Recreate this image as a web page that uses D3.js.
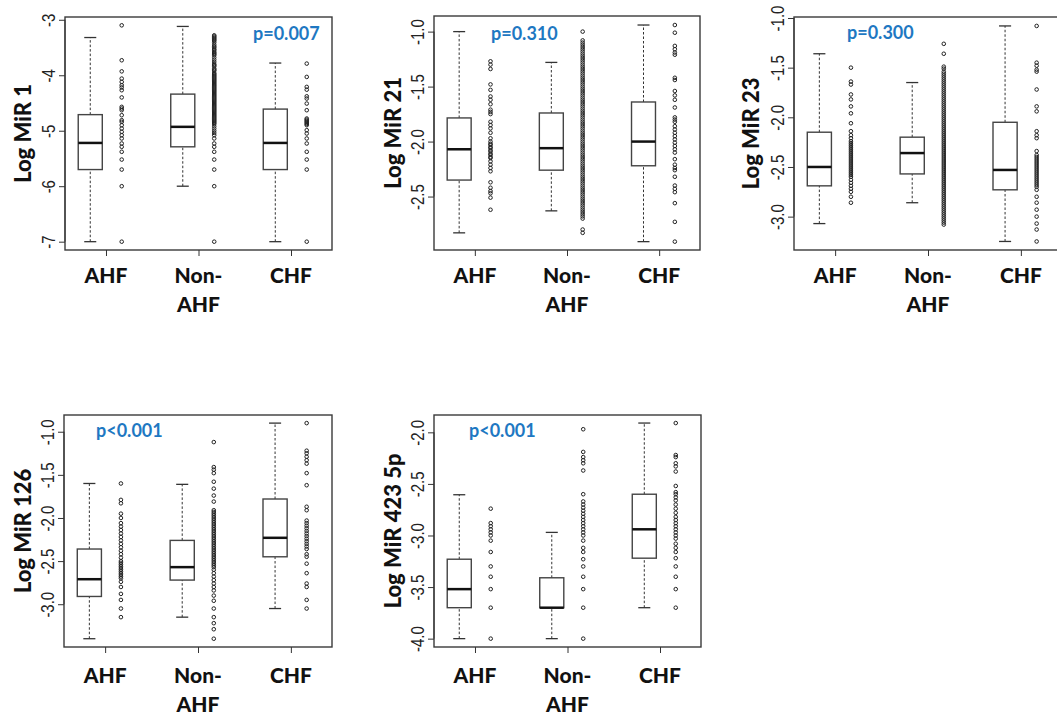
<!DOCTYPE html>
<html><head><meta charset="utf-8">
<script src="https://cdn.jsdelivr.net/npm/d3@7"></script>
<style>body{margin:0;background:#fff}svg{display:block}</style>
</head><body><svg id="c" width="1057" height="719"></svg>
<script>
// ---------- data ----------
const categories = ["AHF", "Non-AHF", "CHF"];
const categoryLines = [["AHF"], ["Non-", "AHF"], ["CHF"]];
const yLabels = ["Log MiR 1", "Log MiR 21", "Log MiR 23", "Log MiR 126", "Log MiR 423 5p"];
const pLabels = ["p=0.007", "p=0.310", "p=0.300", "p<0.001", "p<0.001"];

const ticks1 = [-7, -6, -5, -4, -3];
const tickLabels1 = ["-7", "-6", "-5", "-4", "-3"];
const ticks21 = [-2.5, -2.0, -1.5, -1.0];
const tickLabels21 = ["-2.5", "-2.0", "-1.5", "-1.0"];
const ticks23 = [-3.0, -2.5, -2.0, -1.5, -1.0];
const tickLabels23 = ["-3.0", "-2.5", "-2.0", "-1.5", "-1.0"];
const ticks126 = [-3.0, -2.5, -2.0, -1.5, -1.0];
const tickLabels126 = ["-3.0", "-2.5", "-2.0", "-1.5", "-1.0"];
const ticks423 = [-4.0, -3.5, -3.0, -2.5, -2.0];
const tickLabels423 = ["-4.0", "-3.5", "-3.0", "-2.5", "-2.0"];

// box stats per group: [lower whisker, Q1, median, Q3, upper whisker]
const box1 = [[-7.0, -5.70, -5.22, -4.71, -3.32], [-6.0, -5.29, -4.93, -4.34, -3.12], [-7.0, -5.70, -5.22, -4.61, -3.78]];
const box21 = [[-2.83, -2.35, -2.07, -1.785, -1.0], [-2.63, -2.26, -2.06, -1.74, -1.28], [-2.91, -2.22, -2.0, -1.64, -0.94]];
const box23 = [[-3.07, -2.69, -2.50, -2.15, -1.36], [-2.86, -2.57, -2.36, -2.20, -1.65], [-3.25, -2.73, -2.53, -2.05, -1.08]];
const box126 = [[-3.40, -2.91, -2.71, -2.36, -1.60], [-3.15, -2.72, -2.57, -2.26, -1.61], [-3.05, -2.45, -2.23, -1.78, -0.90]];
const box423 = [[-4.0, -3.70, -3.52, -3.23, -2.605], [-4.0, -3.70, -3.70, -3.41, -2.97], [-3.70, -3.22, -2.94, -2.60, -1.91]];

// individual points (strip charts)
const pts1AHF = [-3.10, -3.73, -3.93, -4.06, -4.12, -4.18, -4.22, -4.27, -4.40, -4.57, -4.60, -4.63, -4.72, -4.81, -4.84, -4.90, -4.96, -5.02, -5.08, -5.14, -5.23, -5.29, -5.38, -5.52, -5.70, -6.0, -7.0];
const pts1Non = [-3.28, -3.30, -3.32, -3.34, -3.36, -3.38, -3.41, -3.45, -3.48, -3.50, -3.53, -3.55, -3.58, -3.60, -3.62, -3.64, -3.68, -3.72, -3.76, -3.80, -3.82, -3.84, -3.88, -3.90, -3.92, -3.96, -3.98, -4.00, -4.02, -4.04, -4.06, -4.08, -4.10, -4.12, -4.14, -4.16, -4.18, -4.20, -4.22, -4.24, -4.26, -4.28, -4.30, -4.32, -4.34, -4.36, -4.38, -4.40, -4.42, -4.44, -4.46, -4.48, -4.50, -4.52, -4.54, -4.56, -4.58, -4.60, -4.62, -4.64, -4.66, -4.68, -4.70, -4.72, -4.74, -4.76, -4.78, -4.80, -4.82, -4.84, -4.86, -4.88, -4.92, -4.96, -5.00, -5.04, -5.08, -5.14, -5.23, -5.29, -5.38, -5.52, -5.70, -6.0, -7.0];
const pts1CHF = [-3.79, -4.03, -4.21, -4.26, -4.38, -4.42, -4.51, -4.63, -4.78, -4.80, -4.82, -4.84, -4.86, -4.88, -4.90, -4.99, -5.05, -5.14, -5.23, -5.38, -5.52, -5.70, -7.0];

const pts21AHF = [-1.27, -1.30, -1.34, -1.48, -1.53, -1.59, -1.62, -1.66, -1.71, -1.73, -1.75, -1.82, -1.85, -1.88, -1.92, -1.97, -2.00, -2.02, -2.03, -2.05, -2.06, -2.08, -2.09, -2.11, -2.12, -2.14, -2.15, -2.18, -2.21, -2.24, -2.27, -2.37, -2.42, -2.45, -2.47, -2.51, -2.62];
const pts21Non = [-1.00, -1.08, -1.10, -1.12, -1.14, -1.16, -1.18, -1.20, -1.22, -1.24, -1.26, -1.28, -1.30, -1.32, -1.34, -1.36, -1.38, -1.40, -1.42, -1.44, -1.46, -1.48, -1.50, -1.52, -1.54, -1.56, -1.58, -1.60, -1.62, -1.64, -1.66, -1.68, -1.70, -1.72, -1.74, -1.76, -1.78, -1.80, -1.82, -1.84, -1.86, -1.88, -1.90, -1.92, -1.94, -1.96, -1.98, -2.00, -2.02, -2.04, -2.06, -2.08, -2.10, -2.12, -2.14, -2.16, -2.18, -2.20, -2.22, -2.24, -2.26, -2.28, -2.30, -2.32, -2.34, -2.36, -2.38, -2.40, -2.42, -2.44, -2.46, -2.48, -2.50, -2.52, -2.54, -2.56, -2.58, -2.60, -2.62, -2.64, -2.66, -2.68, -2.70, -2.80, -2.83];
const pts21CHF = [-0.94, -1.01, -1.13, -1.16, -1.19, -1.21, -1.42, -1.44, -1.54, -1.58, -1.62, -1.69, -1.78, -1.80, -1.82, -1.86, -1.89, -1.92, -1.95, -1.98, -2.01, -2.04, -2.07, -2.10, -2.16, -2.21, -2.24, -2.26, -2.32, -2.40, -2.43, -2.46, -2.56, -2.73, -2.91];

const pts23AHF = [-1.50, -1.64, -1.67, -1.77, -1.82, -1.89, -1.96, -2.06, -2.14, -2.18, -2.21, -2.24, -2.26, -2.28, -2.30, -2.32, -2.34, -2.36, -2.38, -2.40, -2.42, -2.44, -2.46, -2.48, -2.50, -2.52, -2.54, -2.56, -2.58, -2.60, -2.63, -2.66, -2.69, -2.72, -2.75, -2.80, -2.86];
const pts23Non = [-1.26, -1.36, -1.49, -1.51, -1.54, -1.56, -1.58, -1.60, -1.62, -1.64, -1.66, -1.68, -1.70, -1.72, -1.74, -1.76, -1.78, -1.80, -1.82, -1.84, -1.86, -1.88, -1.90, -1.92, -1.94, -1.96, -1.98, -2.00, -2.02, -2.04, -2.06, -2.08, -2.10, -2.12, -2.14, -2.16, -2.18, -2.20, -2.22, -2.24, -2.26, -2.28, -2.30, -2.32, -2.34, -2.36, -2.38, -2.40, -2.42, -2.44, -2.46, -2.48, -2.50, -2.52, -2.54, -2.56, -2.58, -2.60, -2.62, -2.64, -2.66, -2.68, -2.70, -2.72, -2.74, -2.76, -2.78, -2.80, -2.82, -2.84, -2.86, -2.88, -2.90, -2.92, -2.94, -2.96, -2.98, -3.00, -3.02, -3.04, -3.06, -3.08];
const pts23CHF = [-1.08, -1.45, -1.48, -1.52, -1.54, -1.72, -1.89, -1.94, -2.14, -2.18, -2.21, -2.34, -2.38, -2.40, -2.42, -2.44, -2.46, -2.48, -2.50, -2.52, -2.54, -2.56, -2.58, -2.60, -2.62, -2.64, -2.66, -2.68, -2.70, -2.73, -2.80, -2.86, -2.93, -3.00, -3.07, -3.13, -3.25];

const pts126AHF = [-1.60, -1.79, -1.83, -1.95, -2.00, -2.06, -2.10, -2.14, -2.18, -2.22, -2.26, -2.30, -2.34, -2.38, -2.42, -2.46, -2.50, -2.52, -2.54, -2.56, -2.58, -2.60, -2.62, -2.64, -2.66, -2.68, -2.70, -2.74, -2.80, -2.88, -2.95, -3.05, -3.15];
const pts126Non = [-1.12, -1.41, -1.44, -1.48, -1.58, -1.66, -1.74, -1.81, -1.91, -1.93, -1.95, -1.97, -1.99, -2.01, -2.03, -2.05, -2.07, -2.09, -2.11, -2.13, -2.15, -2.17, -2.19, -2.21, -2.23, -2.25, -2.27, -2.29, -2.31, -2.33, -2.35, -2.37, -2.39, -2.41, -2.43, -2.45, -2.47, -2.49, -2.51, -2.53, -2.55, -2.57, -2.60, -2.64, -2.68, -2.72, -2.76, -2.80, -2.84, -2.90, -2.96, -3.05, -3.15, -3.22, -3.29, -3.40];
const pts126CHF = [-0.90, -1.22, -1.25, -1.29, -1.33, -1.37, -1.48, -1.62, -1.87, -1.91, -2.03, -2.06, -2.09, -2.12, -2.15, -2.18, -2.21, -2.24, -2.27, -2.30, -2.33, -2.36, -2.42, -2.45, -2.53, -2.64, -2.76, -2.80, -2.95, -3.05];

const pts423AHF = [-2.74, -2.88, -2.91, -2.94, -2.97, -3.00, -3.05, -3.16, -3.30, -3.40, -3.52, -3.70, -4.0];
const pts423Non = [-1.97, -2.19, -2.24, -2.27, -2.30, -2.37, -2.60, -2.67, -2.70, -2.73, -2.76, -2.79, -2.82, -2.85, -2.88, -2.91, -2.94, -2.97, -3.00, -3.05, -3.12, -3.16, -3.23, -3.30, -3.40, -3.52, -3.70, -4.0];
const pts423CHF = [-1.91, -2.22, -2.24, -2.30, -2.33, -2.38, -2.52, -2.58, -2.60, -2.63, -2.66, -2.70, -2.74, -2.78, -2.82, -2.85, -2.88, -2.91, -2.94, -2.97, -3.00, -3.03, -3.08, -3.12, -3.16, -3.22, -3.30, -3.40, -3.52, -3.70];

const panelTicks = [ticks1, ticks21, ticks23, ticks126, ticks423];
const panelTickLabels = [tickLabels1, tickLabels21, tickLabels23, tickLabels126, tickLabels423];
const panelBoxes = [box1, box21, box23, box126, box423];
const panelPoints = [
  [pts1AHF, pts1Non, pts1CHF],
  [pts21AHF, pts21Non, pts21CHF],
  [pts23AHF, pts23Non, pts23CHF],
  [pts126AHF, pts126Non, pts126CHF],
  [pts423AHF, pts423Non, pts423CHF]
];

// ---------- layout ----------
const layout = [
  {left: 65, top: 17, right: 332, bottom: 250, y: [-7.15, -2.95], labelX: 31, pX: 253, pY: 40, catY: 283},
  {left: 434, top: 16, right: 700, bottom: 250, y: [-2.986, -0.858], labelX: 401, pX: 491, pY: 40, catY: 283},
  {left: 794, top: 17, right: 1062, bottom: 250, y: [-3.336, -0.99], labelX: 759, pX: 847, pY: 39, catY: 283},
  {left: 64, top: 415, right: 332, bottom: 647, y: [-3.496, -0.806], labelX: 31, pX: 96, pY: 437, catY: 683},
  {left: 434, top: 415, right: 701, bottom: 647, y: [-4.081, -1.832], labelX: 401, pX: 469, pY: 437, catY: 683}
];

const svg = d3.select("#c");
const ink = "#333";
const boldFont = "Lato, 'Open Sans', sans-serif";

layout.forEach((L, pi) => {
  const g = svg.append("g");
  const x = d3.scaleLinear().domain([0.557, 3.443]).range([L.left, L.right]);
  const y = d3.scaleLinear().domain(L.y).range([L.bottom, L.top]);

  // frame
  g.append("rect").attr("x", L.left).attr("y", L.top)
    .attr("width", L.right - L.left).attr("height", L.bottom - L.top)
    .attr("fill", "none").attr("stroke", "#3a3a3a").attr("stroke-width", 1.4);

  // y axis
  const ticks = panelTicks[pi], tlab = panelTickLabels[pi];
  const yAxis = d3.axisLeft(y).tickValues(ticks).tickSize(6).tickFormat((d, i) => tlab[i]);
  const ya = g.append("g").attr("transform", `translate(${L.left},0)`).call(yAxis);
  ya.select(".domain").attr("stroke", ink).attr("d", `M0,${y(ticks[0])}V${y(ticks[ticks.length - 1])}`);
  ya.selectAll(".tick line").attr("stroke", ink);
  ya.selectAll(".tick text")
    .attr("x", null).attr("dy", null)
    .attr("transform", "translate(-10,0) rotate(-90) scale(1,1.2)")
    .attr("text-anchor", "middle")
    .attr("font-family", "'Liberation Sans', Arial, sans-serif")
    .attr("font-size", 15).attr("fill", "#222");

  // x axis
  const xAxis = d3.axisBottom(x).tickValues([1, 2, 3]).tickSize(6).tickFormat("");
  const xa = g.append("g").attr("transform", `translate(0,${L.bottom})`).call(xAxis);
  xa.select(".domain").remove();
  xa.selectAll(".tick line").attr("stroke", ink);

  // category labels
  categoryLines.forEach((lines, ci) => {
    const t = g.append("text").attr("x", x(ci + 1)).attr("y", L.catY)
      .attr("text-anchor", "middle").attr("font-family", boldFont)
      .attr("font-weight", 900).attr("font-size", 21).attr("fill", "#111");
    lines.forEach((ln, li) => {
      t.append("tspan").attr("x", x(ci + 1)).attr("dy", li === 0 ? 0 : 29).text(ln);
    });
  });

  // y label
  g.append("text")
    .attr("transform", `translate(${L.labelX},${(L.top + L.bottom) / 2}) rotate(-90)`)
    .attr("text-anchor", "middle").attr("font-family", boldFont)
    .attr("font-weight", 900).attr("font-size", 22).attr("fill", "#111")
    .text(yLabels[pi]);

  // p label
  g.append("text").attr("x", L.pX).attr("y", L.pY)
    .attr("font-family", boldFont).attr("font-weight", "bold")
    .attr("font-size", 18).attr("fill", "#1e78c2").text(pLabels[pi]);

  // boxes
  const boxOff = -0.17, halfW = 0.13, capW = 0.065;
  panelBoxes[pi].forEach((s, ci) => {
    const cx = ci + 1 + boxOff;
    const [lo, q1, med, q3, hi] = s;
    const bg = g.append("g");
    [[lo, q1], [q3, hi]].forEach(([a, b]) => {
      bg.append("line").attr("x1", x(cx)).attr("x2", x(cx)).attr("y1", y(a)).attr("y2", y(b))
        .attr("stroke", ink).attr("stroke-width", 1).attr("stroke-dasharray", "2.5,2");
    });
    [lo, hi].forEach(v => {
      bg.append("line").attr("x1", x(cx - capW)).attr("x2", x(cx + capW)).attr("y1", y(v)).attr("y2", y(v))
        .attr("stroke", ink).attr("stroke-width", 1.3);
    });
    bg.append("rect").attr("x", x(cx - halfW)).attr("y", y(q3))
      .attr("width", x(cx + halfW) - x(cx - halfW)).attr("height", y(q1) - y(q3))
      .attr("fill", "#fff").attr("stroke", "#444").attr("stroke-width", 1.4);
    bg.append("line").attr("x1", x(cx - halfW)).attr("x2", x(cx + halfW)).attr("y1", y(med)).attr("y2", y(med))
      .attr("stroke", "#111").attr("stroke-width", 2.5);
  });

  // points
  panelPoints[pi].forEach((arr, ci) => {
    g.append("g").selectAll("circle").data(arr).join("circle")
      .attr("cx", x(ci + 1.17)).attr("cy", d => y(d)).attr("r", 1.8)
      .attr("fill", "none").attr("stroke", "#222").attr("stroke-width", 1);
  });
});
</script>
</body></html>
